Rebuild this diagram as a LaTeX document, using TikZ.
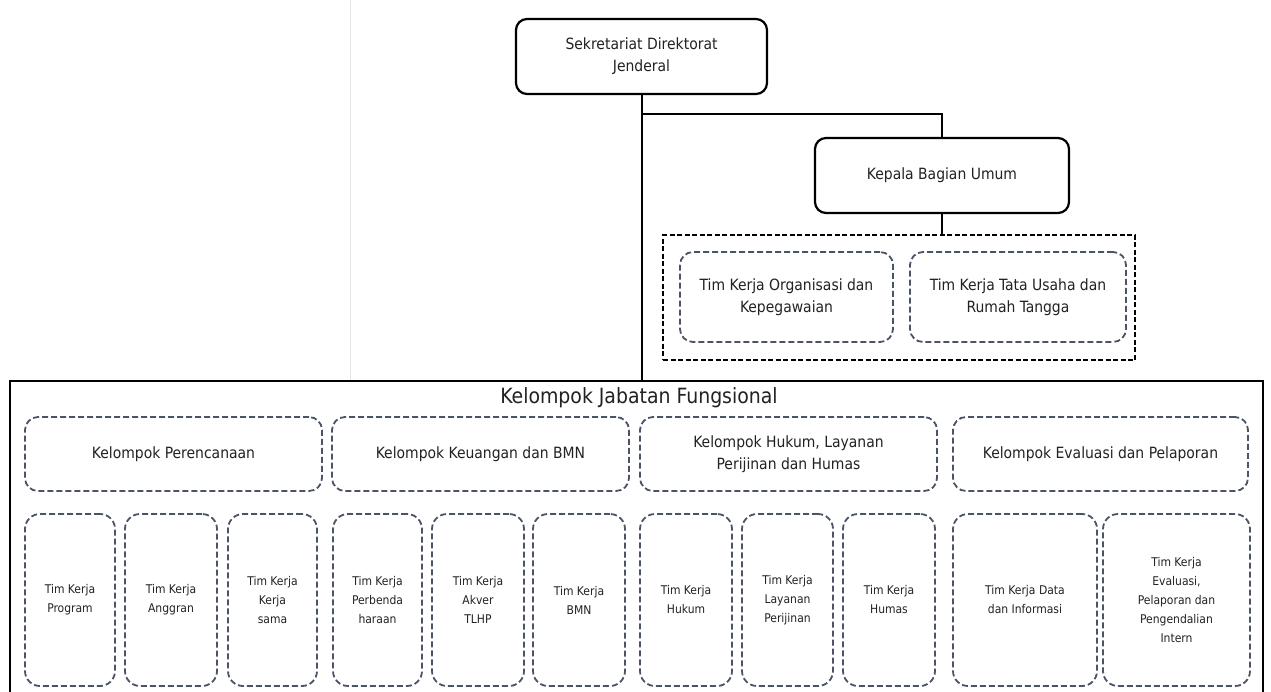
\documentclass[tikz,border=0pt]{standalone}
\usepackage{fontspec}
\setmainfont{DejaVu Sans Condensed}
\definecolor{dashc}{HTML}{4A5466}
\definecolor{txt}{HTML}{222222}
\begin{document}
\begin{tikzpicture}[x=1pt,y=-1pt,
  headbox/.style={draw=black, line width=2.2pt, rounded corners=11pt, align=center, inner sep=0pt, text=txt, font=\fontsize{15.5}{22}\selectfont},
  groupbox/.style={draw=dashc, line width=1.8pt, dash pattern=on 6pt off 3pt, rounded corners=13pt, align=center, inner sep=0pt, text=txt, font=\fontsize{15.5}{22}\selectfont},
  timbox/.style={draw=dashc, line width=1.8pt, dash pattern=on 6pt off 3pt, rounded corners=15pt, align=center, inner sep=0pt, text=txt, minimum height=172pt, font=\fontsize{12}{19}\selectfont},
  outerbox/.style={draw=black, line width=2.2pt, dash pattern=on 5pt off 2.5pt, inner sep=0pt},
  link/.style={draw=black, line width=2pt}
]
\useasboundingbox (0,0) rectangle (1271,691);
\fill[white] (0,0) rectangle (1271,691);
% faint page edge
\draw[gray!20, line width=1pt] (350,0) -- (350,380);

% top
\node[headbox, minimum width=251pt, minimum height=75pt] (sek) at (641.5,56.5) {Sekretariat Direktorat\\Jenderal};
\node[headbox, minimum width=254pt, minimum height=75pt] (kep) at (942,175.5) {Kepala Bagian Umum};
\node[outerbox, minimum width=472pt, minimum height=125pt] (umum) at (899,297.5) {};
\node[groupbox, minimum width=213pt, minimum height=90pt] (org) at (786.5,297) {Tim Kerja Organisasi dan\\Kepegawaian};
\node[groupbox, minimum width=216pt, minimum height=90pt] (tu) at (1018,297) {Tim Kerja Tata Usaha dan\\Rumah Tangga};

% main functional box
\coordinate (fjtl) at (10,381);
\coordinate (fjtr) at (1263,381);
\coordinate (fjbl) at (10,696);
\coordinate (fjbr) at (1263,696);
\draw[black, line width=2pt] (fjbl) -- (fjtl) -- (fjtr) -- (fjbr);
\node[text=txt, font=\fontsize{21}{24}\selectfont] (fjt) at (639,398) {Kelompok Jabatan Fungsional};

% connectors
\coordinate (fjtop) at (sek.south |- fjtl);
\coordinate (br) at (643,114);
\draw[link] (sek.south) -- (fjtop);
\draw[link] (sek.south |- br) -| (kep.north);
\draw[link] (kep.south) -- (kep.south |- umum.north);

% groups
\node[groupbox, minimum width=297pt, minimum height=74pt] (g1) at (173.5,454) {Kelompok Perencanaan};
\node[groupbox, minimum width=297pt, minimum height=74pt] (g2) at (480.5,454) {Kelompok Keuangan dan BMN};
\node[groupbox, minimum width=297pt, minimum height=74pt] (g3) at (788.5,454) {Kelompok Hukum, Layanan\\Perijinan dan Humas};
\node[groupbox, minimum width=295pt, minimum height=74pt] (g4) at (1100.5,454) {Kelompok Evaluasi dan Pelaporan};

% teams
\node[timbox, minimum width=90pt] (t1) at (70,600) {Tim Kerja\\Program};
\node[timbox, minimum width=92pt] (t2) at (171,600) {Tim Kerja\\Anggran};
\node[timbox, minimum width=89pt] (t3) at (272.5,600) {Tim Kerja\\Kerja\\sama};
\node[timbox, minimum width=89pt] (t4) at (377.5,600) {Tim Kerja\\Perbenda\\haraan};
\node[timbox, minimum width=92pt] (t5) at (478,600) {Tim Kerja\\Akver\\TLHP};
\node[timbox, minimum width=92pt] (t6) at (579,600) {Tim Kerja\\BMN};
\node[timbox, minimum width=92pt] (t7) at (686,600) {Tim Kerja\\Hukum};
\node[timbox, minimum width=91pt] (t8) at (787.5,600) {Tim Kerja\\Layanan\\Perijinan};
\node[timbox, minimum width=92pt] (t9) at (889,600) {Tim Kerja\\Humas};
\node[timbox, minimum width=144pt] (t10) at (1025,600) {Tim Kerja Data\\dan Informasi};
\node[timbox, minimum width=147pt] (t11) at (1176.5,600) {Tim Kerja\\Evaluasi,\\Pelaporan dan\\Pengendalian\\Intern};
\end{tikzpicture}
\end{document}
